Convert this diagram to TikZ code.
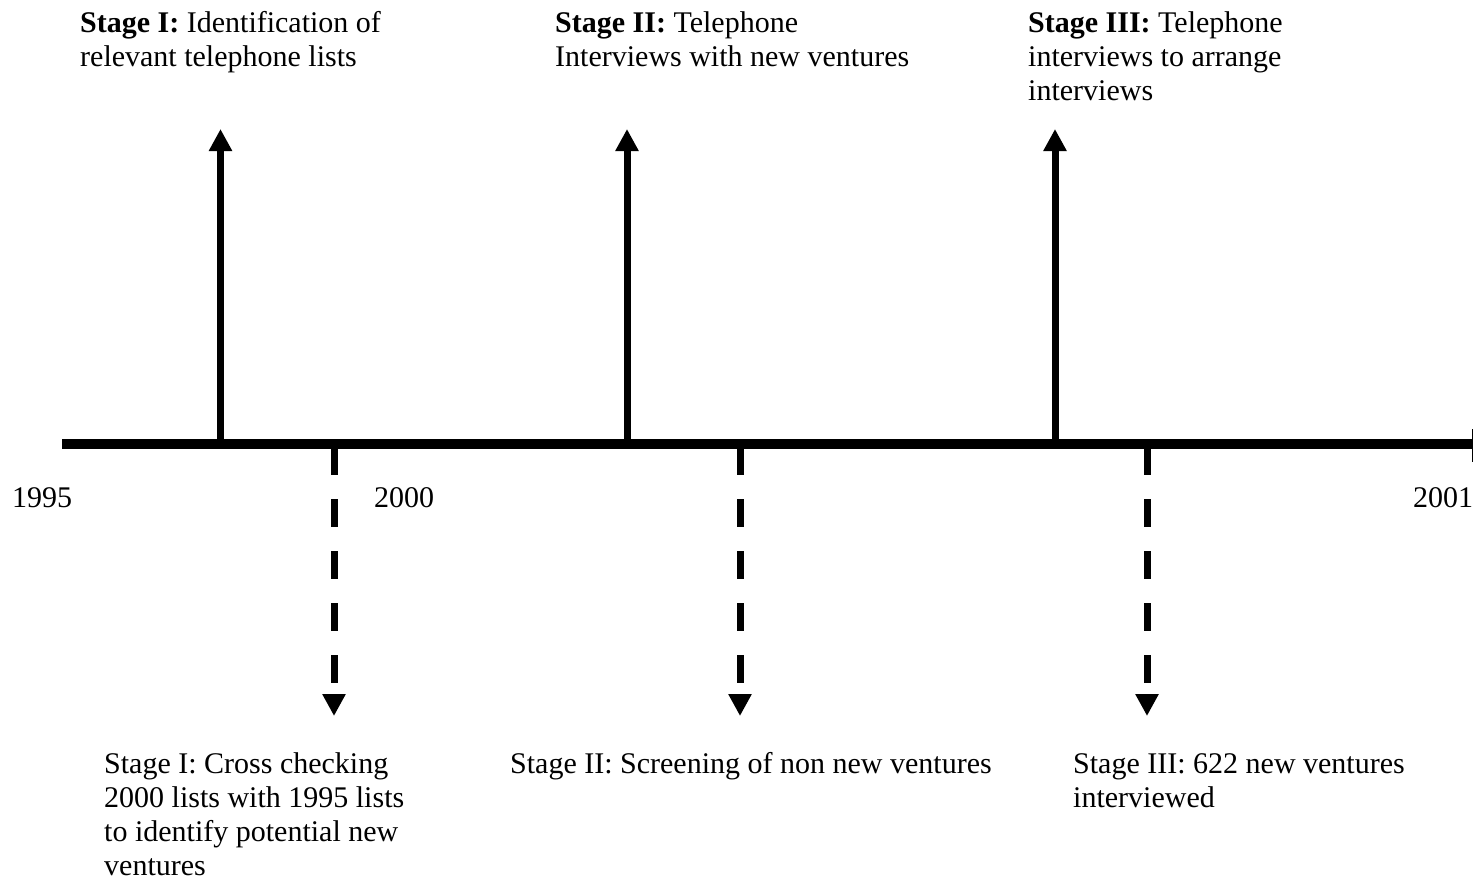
\documentclass[tikz,border=0pt]{standalone}
\usepackage{fontspec}
\setmainfont{Liberation Serif}
\usetikzlibrary{arrows.meta}
\tikzset{
  lbl/.style={anchor=north west,inner sep=0pt,align=left,font=\fontsize{30}{34}\selectfont},
  yr/.style={anchor=base west,inner sep=0pt,font=\fontsize{30}{34}\selectfont},
  upar/.style={line width=7pt,-{Triangle[width=22pt,length=22pt]}},
  dnar/.style={line width=7pt,dash pattern=on 28pt off 24pt,-{Triangle[width=22pt,length=22pt]}},
  axis/.style={line width=10.5pt}
}
\begin{document}
\begin{tikzpicture}[x=1pt,y=-1pt]
\useasboundingbox (0,0) rectangle (1474,883);
% timeline
\coordinate (L) at (62,444);
\coordinate (R) at (1472,444);
\draw[axis] (L) -- (R);
\coordinate (Rt) at (1472.5,429);
\coordinate (Rb) at (1472.5,462);
\draw[line width=1.6pt] (Rt) -- (Rb);
% up arrows
\coordinate (u1b) at (220.5,444); \coordinate (u1t) at (220.5,129);
\coordinate (u2b) at (627,444);   \coordinate (u2t) at (627,129);
\coordinate (u3b) at (1055,444);  \coordinate (u3t) at (1055,129);
\draw[upar] (u1b) -- (u1t);
\draw[upar] (u2b) -- (u2t);
\draw[upar] (u3b) -- (u3t);
% dashed down arrows
\coordinate (d1t) at (334,447); \coordinate (d1b) at (334,716);
\coordinate (d2t) at (740,447); \coordinate (d2b) at (740,716);
\coordinate (d3t) at (1147,447); \coordinate (d3b) at (1147,716);
\draw[dnar] (d1t) -- (d1b);
\draw[dnar] (d2t) -- (d2b);
\draw[dnar] (d3t) -- (d3b);
% years
\node[yr] (y1995) at (12,507) {1995};
\node[yr] (y2000) at (374,507) {2000};
\node[yr] (y2001) at (1413,507) {2001};
% top labels
\node[lbl] (t1) at (80,8.2) {\strut\textbf{Stage I:} Identification of\\relevant telephone lists};
\node[lbl] (t2) at (555,8.2) {\strut\textbf{Stage II:} Telephone\\Interviews with new ventures};
\node[lbl] (t3) at (1028,8.2) {\strut\textbf{Stage III:} Telephone\\interviews to arrange\\interviews};
% bottom labels
\node[lbl] (b1) at (104,749.2) {\strut Stage I: Cross checking\\2000 lists with 1995 lists\\to identify potential new\\ventures};
\node[lbl] (b2) at (510,749.2) {\strut Stage II: Screening of non new ventures};
\node[lbl] (b3) at (1073,749.2) {\strut Stage III: 622 new ventures\\interviewed};
\end{tikzpicture}
\end{document}
